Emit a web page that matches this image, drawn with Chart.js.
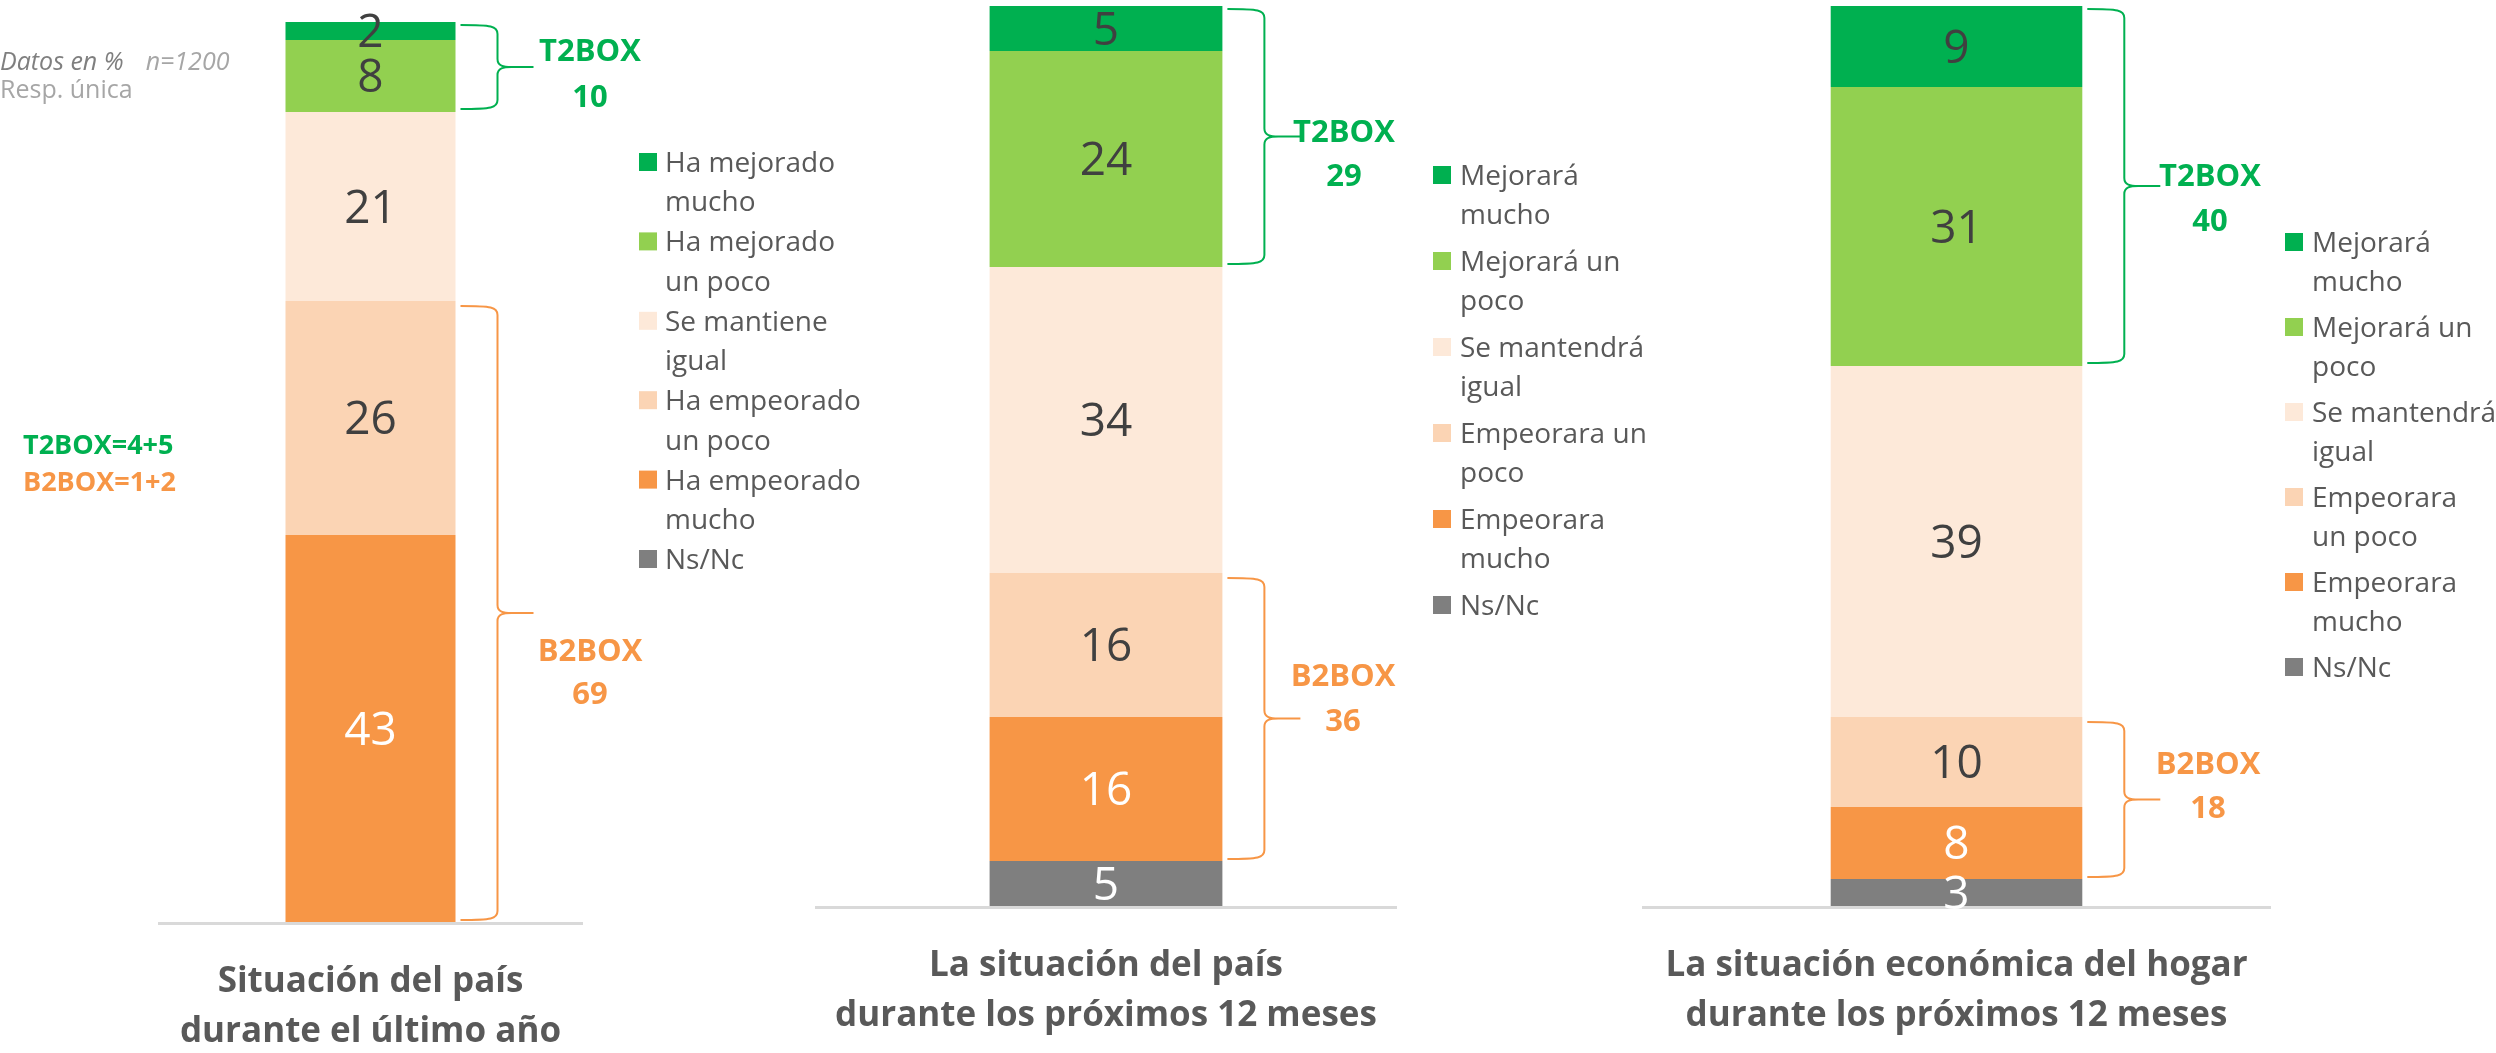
<!DOCTYPE html>
<html>
<head>
<meta charset="utf-8">
<script src="https://cdn.jsdelivr.net/npm/chart.js@4.4.0/dist/chart.umd.min.js"></script>
<style>
  html, body { margin: 0; padding: 0; background: #fff; }
  #wrap { position: relative; width: 2496px; height: 1053px; overflow: hidden; font-family: "Open Sans", sans-serif; }
  #wrap canvas { position: absolute; left: 0; top: 0; }
  .note { position: absolute; white-space: nowrap; line-height: 1; }
</style>
</head>
<body>
<div id="wrap">
  <canvas id="c1" width="2496" height="1053"></canvas>
  <canvas id="c2" width="2496" height="1053"></canvas>
  <canvas id="c3" width="2496" height="1053"></canvas>
  <div class="note" style="left:0;top:48px;font-style:italic;color:#7f7f7f;font-size:25px">Datos en %<span style="color:#a6a6a6;margin-left:22px">n=1200</span></div>
  <div class="note" style="left:0;top:76px;color:#a6a6a6;font-size:25px">Resp. única</div>
  <div class="note" style="left:23px;top:430px;color:#00B050;font-weight:700;font-size:27px">T2BOX=4+5</div>
  <div class="note" style="left:23px;top:467px;color:#F79646;font-weight:700;font-size:27px">B2BOX=1+2</div>
</div>
<script>
// Data (listed from top segment to bottom segment)
const titles1 = ['Situación del país', 'durante el último año'];
const titles2 = ['La situación del país', 'durante los próximos 12 meses'];
const titles3 = ['La situación económica del hogar', 'durante los próximos 12 meses'];

const legend1 = [['Ha mejorado', 'mucho'], ['Ha mejorado', 'un poco'], ['Se mantiene', 'igual'],
                 ['Ha empeorado', 'un poco'], ['Ha empeorado', 'mucho'], ['Ns/Nc']];
const legend2 = [['Mejorará', 'mucho'], ['Mejorará un', 'poco'], ['Se mantendrá', 'igual'],
                 ['Empeorara un', 'poco'], ['Empeorara', 'mucho'], ['Ns/Nc']];
const legend3 = [['Mejorará', 'mucho'], ['Mejorará un', 'poco'], ['Se mantendrá', 'igual'],
                 ['Empeorara', 'un poco'], ['Empeorara', 'mucho'], ['Ns/Nc']];

const values1 = [2, 8, 21, 26, 43, 0];
const values2 = [5, 24, 34, 16, 16, 5];
const values3 = [9, 31, 39, 10, 8, 3];

const t2box = [10, 29, 40];
const b2box = [69, 36, 18];

const SERIES_COLORS = ['#00B050', '#92D050', '#FDE9D9', '#FBD4B4', '#F79646', '#7F7F7F'];
const LABEL_COLORS = ['#404040', '#404040', '#404040', '#404040', '#FFFFFF', '#FFFFFF'];
const GREEN = '#00B050';
const ORANGE = '#F79646';

const W = 2496, H = 1053;

// Where each chart sits on the page
const layouts = [
    { area: [158, 22, 583, 922], legend: { sq: 639, text: 665, y: 162, step: 79.4 },
      t2Label: [590, 50, 96], b2Label: [590, 650, 693] },
    { area: [815, 6, 1397, 906], legend: { sq: 1433, text: 1460, y: 175, step: 86 },
      t2Label: [1344, 131, 175], b2Label: [1343, 675, 720] },
    { area: [1642, 6, 2271, 906], legend: { sq: 2285, text: 2312, y: 242, step: 85 },
      t2Label: [2210, 175, 220], b2Label: [2208, 763, 807] }
];

// y is the middle of the capital letters
function drawText(ctx, s, x, y, size, color, weight, align) {
    ctx.font = `${weight || 400} ${size}px "Open Sans"`;
    ctx.fillStyle = color;
    ctx.textAlign = align || 'left';
    ctx.textBaseline = 'alphabetic';
    ctx.fillText(s, x, y + size * 0.357);
}

function drawBrace(ctx, x0, xv, xt, yTop, yBot, color) {
    const ym = (yTop + yBot) / 2;
    ctx.strokeStyle = color;
    ctx.lineWidth = 2;
    ctx.beginPath();
    ctx.moveTo(x0, yTop);
    ctx.bezierCurveTo(xv - 6, yTop, xv, yTop + 1, xv, yTop + 9);
    ctx.lineTo(xv, ym - 8);
    ctx.bezierCurveTo(xv, ym - 1, xv + 6, ym, xv + 14, ym);
    ctx.lineTo(xt, ym);
    ctx.moveTo(xv + 14, ym);
    ctx.bezierCurveTo(xv + 6, ym, xv, ym + 1, xv, ym + 8);
    ctx.lineTo(xv, yBot - 9);
    ctx.bezierCurveTo(xv, yBot - 1, xv - 6, yBot, x0, yBot);
    ctx.stroke();
}

const annotate = {
    id: 'annotate',
    afterDatasetsDraw(chart, args, opts) {
        const ctx = chart.ctx;
        const a = chart.chartArea;
        const datasets = chart.data.datasets;
        const n = datasets.length;
        const barOf = k => chart.getDatasetMeta(n - 1 - k).data[0];
        ctx.save();

        // baseline
        ctx.strokeStyle = '#D9D9D9';
        ctx.lineWidth = 3;
        ctx.beginPath();
        ctx.moveTo(a.left, a.bottom + 1.5);
        ctx.lineTo(a.right, a.bottom + 1.5);
        ctx.stroke();

        // value labels
        datasets.forEach((ds, i) => {
            const v = ds.data[0];
            if (!v) return;
            const bar = chart.getDatasetMeta(i).data[0];
            drawText(ctx, String(v), bar.x, (bar.y + bar.base) / 2, 46, ds.labelColor, 400, 'center');
        });

        // braces
        const top = barOf(0);
        const barRight = top.x + top.width / 2;
        drawBrace(ctx, barRight + 5, barRight + 42, barRight + 78,
            barOf(0).y + 3, barOf(1).base - 3, GREEN);
        drawBrace(ctx, barRight + 5, barRight + 42, barRight + 78,
            barOf(3).y + 5, barOf(4).base - 2, ORANGE);

        drawText(ctx, 'T2BOX', opts.t2Label[0], opts.t2Label[1], 31, GREEN, 700, 'center');
        drawText(ctx, String(opts.t2), opts.t2Label[0], opts.t2Label[2], 31, GREEN, 700, 'center');
        drawText(ctx, 'B2BOX', opts.b2Label[0], opts.b2Label[1], 31, ORANGE, 700, 'center');
        drawText(ctx, String(opts.b2), opts.b2Label[0], opts.b2Label[2], 31, ORANGE, 700, 'center');

        // legend
        const L = opts.legend;
        for (let k = 0; k < n; k++) {
            const ds = datasets[n - 1 - k];
            const y = L.y + k * L.step;
            ctx.fillStyle = ds.backgroundColor;
            ctx.fillRect(L.sq, y - 9, 18, 18);
            ds.legendLines.forEach((s, j) => {
                drawText(ctx, s, L.text, y + j * 39.5, 28, '#595959', 400, 'left');
            });
        }

        // title under the axis
        const cx = (a.left + a.right) / 2;
        ctx.font = '700 35px "Open Sans"';
        ctx.fillStyle = '#595959';
        ctx.textAlign = 'center';
        ctx.textBaseline = 'alphabetic';
        opts.title.forEach((s, j) => ctx.fillText(s, cx, a.bottom + 70 + j * 50));

        ctx.restore();
    }
};

function buildDatasets(values, legendLines) {
    return values.map((v, k) => ({
        label: legendLines[k].join(' '),
        data: [v],
        backgroundColor: SERIES_COLORS[k],
        labelColor: LABEL_COLORS[k],
        legendLines: legendLines[k],
        borderWidth: 0,
        barPercentage: 0.4,
        categoryPercentage: 1
    })).reverse();   // Chart.js stacks the first dataset at the bottom
}

function makeChart(id, idx, titles, values, legendLines) {
    const lay = layouts[idx];
    const [left, top, right, bottom] = lay.area;
    return new Chart(document.getElementById(id), {
        type: 'bar',
        data: {
            labels: [titles.join(' ')],
            datasets: buildDatasets(values, legendLines)
        },
        options: {
            responsive: false,
            animation: false,
            events: [],
            layout: { padding: { left: left, top: top, right: W - right, bottom: H - bottom } },
            scales: {
                x: { stacked: true, display: false },
                y: { stacked: true, display: false, min: 0, max: 100 }
            },
            plugins: {
                legend: { display: false },
                tooltip: { enabled: false },
                annotate: {
                    legend: lay.legend,
                    t2Label: lay.t2Label,
                    b2Label: lay.b2Label,
                    t2: t2box[idx],
                    b2: b2box[idx],
                    title: titles
                }
            }
        },
        plugins: [annotate]
    });
}

makeChart('c1', 0, titles1, values1, legend1);
makeChart('c2', 1, titles2, values2, legend2);
makeChart('c3', 2, titles3, values3, legend3);
</script>
</body>
</html>
